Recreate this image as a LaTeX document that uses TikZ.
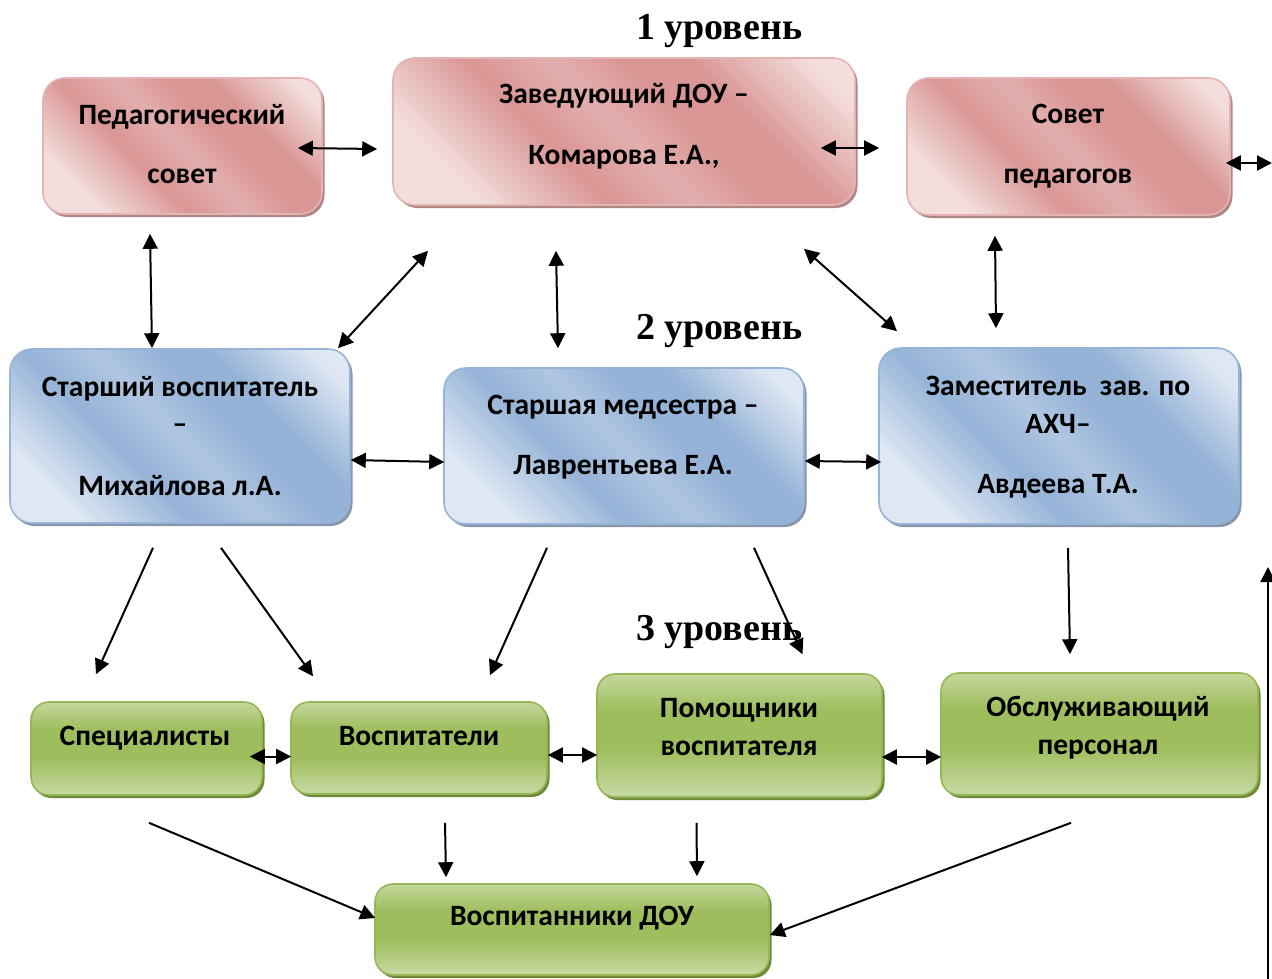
\documentclass[tikz,border=0pt]{standalone}
\usepackage{fontspec}
\setmainfont{Carlito}
\newfontfamily\lvlfont{Liberation Serif}
\usetikzlibrary{arrows.meta,calc,shadows}
\definecolor{redD}{RGB}{217,150,148}
\definecolor{redM}{RGB}{226,175,174}
\definecolor{redL}{RGB}{243,222,221}
\definecolor{redB}{RGB}{228,180,179}
\definecolor{redS}{RGB}{175,135,133}
\definecolor{blueD}{RGB}{149,179,215}
\definecolor{blueM}{RGB}{176,198,226}
\definecolor{blueL}{RGB}{222,231,243}
\definecolor{blueB}{RGB}{150,180,215}
\definecolor{blueS}{RGB}{135,150,170}
\definecolor{greenD}{RGB}{158,189,92}
\definecolor{greenL}{RGB}{196,215,157}
\definecolor{greenB}{RGB}{150,183,85}
\definecolor{greenS}{RGB}{110,138,55}
\pgfdeclarehorizontalshading{redsh}{100bp}{color(0bp)=(redL); color(25bp)=(redL); color(40bp)=(redD); color(50bp)=(redM); color(58bp)=(redD); color(66bp)=(redD); color(80bp)=(redL); color(100bp)=(redL)}
\pgfdeclarehorizontalshading{bluesh}{100bp}{color(0bp)=(blueL); color(25bp)=(blueL); color(40bp)=(blueD); color(50bp)=(blueM); color(58bp)=(blueD); color(66bp)=(blueD); color(80bp)=(blueL); color(100bp)=(blueL)}
\pgfdeclareverticalshading{greensh}{100bp}{color(0bp)=(greenL); color(27bp)=(greenL); color(45bp)=(greenD); color(60bp)=(greenD); color(75bp)=(greenL); color(100bp)=(greenL)}
\tikzset{
  box/.style={rectangle, rounded corners=22pt, line width=1.6pt, inner sep=0pt},
  redbox/.style={box, draw=redB, shade, shading=redsh, shading angle=45,
    drop shadow={shadow xshift=2.5pt, shadow yshift=-3pt, fill=redS, opacity=1}},
  bluebox/.style={box, draw=blueB, shade, shading=bluesh, shading angle=45,
    drop shadow={shadow xshift=2.5pt, shadow yshift=-3pt, fill=blueS, opacity=1}},
  greenbox/.style={box, rounded corners=18pt, draw=greenB, shade, shading=greensh,
    drop shadow={shadow xshift=2.5pt, shadow yshift=-3pt, fill=greenS, opacity=1}},
  txt/.style={anchor=base, inner sep=0pt, font=\fontsize{29.5}{32}\selectfont\bfseries},
  lvl/.style={anchor=base west, inner sep=0pt, font=\lvlfont\fontsize{38}{40}\selectfont\bfseries},
  arr/.style={line width=2pt, -{Triangle[length=15pt,width=15pt]}},
  dbl/.style={line width=2pt, {Triangle[length=15pt,width=15pt]}-{Triangle[length=15pt,width=15pt]}}
}
\begin{document}
\begin{tikzpicture}[x=1pt,y=-1pt]
\useasboundingbox (0,0) rectangle (1272,978);
% level 1
\node[redbox, minimum width=279pt, minimum height=136pt] (ped) at (182.5,146) {};
\node[redbox, minimum width=462pt, minimum height=147pt] (zav) at (624,131.5) {};
\node[redbox, minimum width=323pt, minimum height=137pt] (sov) at (1068.5,146.5) {};
% level 2
\node[bluebox, minimum width=340pt, minimum height=174pt] (stv) at (180,436) {};
\node[bluebox, minimum width=360pt, minimum height=156pt] (med) at (624,446) {};
\node[bluebox, minimum width=360pt, minimum height=176pt] (zam) at (1059,436) {};
% level 3
\node[greenbox, minimum width=231pt, minimum height=93pt] (spec) at (146.5,748.5) {};
\node[greenbox, minimum width=256pt, minimum height=92pt] (vosp) at (419,748) {};
\node[greenbox, minimum width=285pt, minimum height=123pt] (pom) at (739.5,735.5) {};
\node[greenbox, minimum width=317pt, minimum height=122pt] (obs) at (1099.5,734) {};
\node[greenbox, minimum width=394pt, minimum height=91pt] (vdou) at (572,929.5) {};
% texts
\node[txt] (pedA) at (182,124) {Педагогический};
\node[txt] (pedB) at (182,183) {совет};
\node[txt] (zavA) at (624,103) {Заведующий ДОУ –};
\node[txt] (zavB) at (624,164) {Комарова Е.А.,};
\node[txt] (sovA) at (1068,123) {Совет};
\node[txt] (sovB) at (1068,183) {педагогов};
\node[txt] (stvA) at (180,396) {Старший воспитатель};
\node[txt] (stvB) at (180,433) {–};
\node[txt] (stvC) at (180,495) {Михайлова л.А.};
\node[txt] (medA) at (623,414) {Старшая медсестра –};
\node[txt] (medB) at (623,474) {Лаврентьева Е.А.};
\node[txt] (zamA) at (1058,395) {Заместитель\ \ зав. по};
\node[txt] (zamB) at (1058,433) {АХЧ–};
\node[txt] (zamC) at (1058,493) {Авдеева Т.А.};
\node[txt] (specA) at (145,745) {Специалисты};
\node[txt] (vospA) at (419,745) {Воспитатели};
\node[txt] (pomA) at (739,717) {Помощники};
\node[txt] (pomB) at (739,755) {воспитателя};
\node[txt] (obsA) at (1098,716) {Обслуживающий};
\node[txt] (obsB) at (1098,754) {персонал};
\node[txt] (vdouA) at (572,925) {Воспитанники ДОУ};
% level labels
\node[lvl] (lvl1) at (636,39) {1 уровень};
\node[lvl] (lvl2) at (636,339) {2 уровень};
% connectors
\draw[dbl] ($(ped.east)+(-25,2)$) -- ($(zav.west)+(-15,17.5)$);
\draw[dbl] ($(zav.east)+(-35,16.5)$) -- ($(sov.west)+(-27,1.5)$);
\coordinate (offR) at (1272,163);
\draw[dbl] ($(sov.east)+(-5,16.5)$) -- (offR);
\draw[dbl] ($(ped.south)+(-32.5,19)$) -- ($(stv.north)+(-28,0)$);
\draw[dbl] ($(stv.north)+(158,0)$) -- ($(zav.south)+(-196,45)$);
\draw[dbl] ($(zav.south)+(-68,45)$) -- ($(med.north)+(-66,-19)$);
\draw[dbl] ($(zav.south)+(180,43)$) -- ($(zam.north)+(-162,-16)$);
\draw[dbl] ($(sov.south)+(-73.5,20)$) -- ($(zam.north)+(-63,-19)$);
\draw[dbl] ($(stv.east)+(0,24)$) -- ($(med.west)+(1,16)$);
\draw[dbl] ($(med.east)+(0,15)$) -- ($(zam.west)+(3,26)$);
\draw[arr] ($(stv.south)+(-27,24)$) -- ($(spec.north)+(-50.5,-27)$);
\draw[arr] ($(stv.south)+(41,24)$) -- ($(vosp.north)+(-106,-25)$);
\draw[arr] ($(med.south)+(-77,23)$) -- ($(vosp.north)+(71,-26)$);
\node[lvl] (lvl3) at (636,640) {3 уровень};
\draw[arr] ($(med.south)+(130,23)$) -- ($(pom.north)+(63,-19)$);
\draw[arr] ($(zam.south)+(9,23)$) -- ($(obs.north)+(-29.5,-18)$);
\draw[dbl] ($(spec.east)+(-13,8)$) -- ($(vosp.west)+(1,8.5)$);
\draw[dbl] ($(vosp.east)+(0,7)$) -- ($(pom.west)+(1,19.5)$);
\draw[dbl] ($(pom.east)+(-1,21.5)$) -- ($(obs.west)+(1,23)$);
\draw[arr] ($(spec.south)+(2.5,27)$) -- ($(vdou.west)+(1,-11.5)$);
\draw[arr] ($(vosp.south)+(26,28)$) -- ($(vdou.north)+(-126,-6)$);
\draw[arr] ($(pom.south)+(-43,25)$) -- ($(vdou.north)+(125,-7)$);
\draw[arr] ($(obs.south)+(-28.5,27)$) -- ($(vdou.east)+(0,5.5)$);
\coordinate (vb) at (1268,980);
\coordinate (vt) at (1268,567);
\draw[arr] (vb) -- (vt);
\end{tikzpicture}
\end{document}
